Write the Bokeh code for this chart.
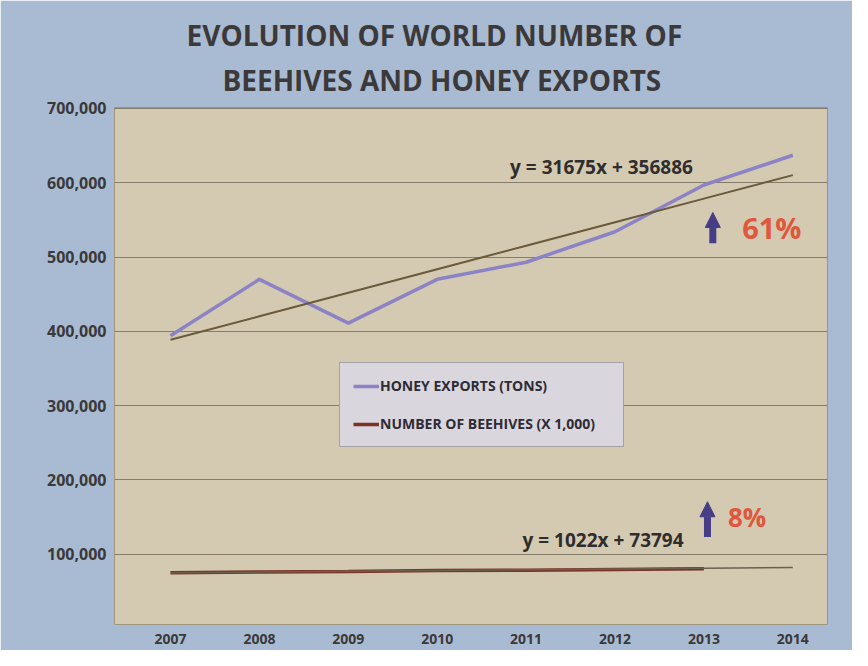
from bokeh.plotting import figure
from bokeh.models import (FixedTicker, Title, Legend, LegendItem, Label, Arrow,
                          NormalHead, CustomJSTickFormatter, Range1d)
from bokeh.embed import file_html
from bokeh.resources import INLINE

# ---- data ----
years = [2007, 2008, 2009, 2010, 2011, 2012, 2013, 2014]
honey_exports = [394000, 470000, 411000, 470000, 493000, 534000, 597000, 637000]
beehive_years = [2007, 2008, 2009, 2010, 2011, 2012, 2013]
beehives = [75000, 76000, 76500, 78000, 78500, 79500, 80500]
honey_slope, honey_icpt = 31675, 356886
hive_slope, hive_icpt = 1022, 73794
honey_trend = [honey_slope * (i + 1) + honey_icpt for i in range(len(years))]
hive_trend = [hive_slope * (i + 1) + hive_icpt for i in range(len(years))]
y_ticks = [100000, 200000, 300000, 400000, 500000, 600000, 700000]
title_lines = ["EVOLUTION OF WORLD NUMBER OF", "BEEHIVES AND HONEY EXPORTS"]
legend_labels = ["HONEY EXPORTS (TONS)", "NUMBER OF BEEHIVES (X 1,000)"]

FONT = "Open Sans"
TXT = "#3a3838"

p = figure(width=852, height=650, output_backend="svg", toolbar_location=None,
           x_range=Range1d(2006.37, 2014.39), y_range=Range1d(5300, 701300),
           min_border_left=114, min_border_right=25, min_border_top=107,
           min_border_bottom=26)
p.border_fill_color = "#a9bbd3"
p.background_fill_color = "#d4cab2"
p.outline_line_color = "#9e957f"
p.outline_line_width = 1

# titles (later-added is farther from the frame)
p.add_layout(Title(text=title_lines[1], align="left", text_font=FONT,
                   text_font_size="28px", text_font_style="bold",
                   text_color="#3b3939", standoff=17, offset=108), "above")
p.add_layout(Title(text=title_lines[0], align="left", text_font=FONT,
                   text_font_size="28px", text_font_style="bold",
                   text_color="#3b3939", standoff=-6, offset=72), "above")

# axes
p.xaxis.ticker = FixedTicker(ticks=years)
p.yaxis.ticker = FixedTicker(ticks=y_ticks)
p.yaxis.formatter = CustomJSTickFormatter(code="return tick.toLocaleString('en-US');")
for ax in (p.xaxis[0], p.yaxis[0]):
    ax.axis_line_color = None
    ax.major_tick_line_color = None
    ax.minor_tick_line_color = None
    ax.major_label_text_font = FONT
    ax.major_label_text_font_style = "bold"
    ax.major_label_text_color = TXT
p.xaxis.major_label_text_font_size = "14px"
p.yaxis.major_label_text_font_size = "16px"
p.xaxis.major_label_standoff = 3
p.yaxis.major_label_standoff = 2

p.xgrid.grid_line_color = None
p.ygrid.grid_line_color = "#857d6a"
p.ygrid.grid_line_width = 1

# series
r_honey = p.line(years, honey_exports, line_color="#8c83c6", line_width=3.5)
p.line(years, honey_trend, line_color="#6a5a3c", line_width=2)
r_hive = p.line(beehive_years, beehives, line_color="#7a3326", line_width=3.5)
p.line(years, hive_trend, line_color="#6b6050", line_width=1.5)

# annotations
p.add_layout(Label(x=2010.82, y=621400, text="y = 31675x + 356886", text_font=FONT,
                   text_font_size="19px", text_font_style="bold", text_color="#2f2d2d",
                   text_baseline="middle"))
p.add_layout(Label(x=2010.96, y=119000, text="y = 1022x + 73794", text_font=FONT,
                   text_font_size="19px", text_font_style="bold", text_color="#2f2d2d",
                   text_baseline="middle"))
p.add_layout(Label(x=2013.43, y=540000, text="61%", text_font=FONT,
                   text_font_size="29px", text_font_style="bold", text_color="#df573d",
                   text_baseline="middle"))
p.add_layout(Label(x=2013.27, y=149700, text="8%", text_font=FONT,
                   text_font_size="26px", text_font_style="bold", text_color="#df573d",
                   text_baseline="middle"))
for (ax_, y0, y1) in [(2013.10, 518500, 560000), (2013.04, 123000, 170500)]:
    p.add_layout(Arrow(x_start=ax_, y_start=y0, x_end=ax_, y_end=y1,
                       line_color="#463d86", line_width=7,
                       end=NormalHead(size=15, fill_color="#463d86",
                                      line_color="#463d86")))

legend = Legend(items=[LegendItem(label=legend_labels[0], renderers=[r_honey]),
                       LegendItem(label=legend_labels[1], renderers=[r_hive])],
                location=(225, 177), orientation="vertical")
legend.background_fill_color = "#d9d6de"
legend.background_fill_alpha = 1
legend.border_line_color = "#6e6e6e"
legend.border_line_width = 1.5
legend.label_text_font = FONT
legend.label_text_font_size = "14px"
legend.label_text_font_style = "bold"
legend.label_text_color = "#2d2b33"
legend.glyph_width = 26
legend.label_standoff = 1
legend.label_height = 18
legend.glyph_height = 18
legend.spacing = 19
legend.padding = 13
legend.margin = 0
legend.label_width = 230
p.add_layout(legend)

open("out.html", "w").write(file_html(p, INLINE))
